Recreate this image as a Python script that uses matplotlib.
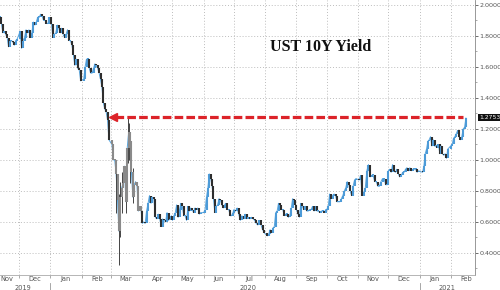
import numpy as np
import pandas as pd
import matplotlib
matplotlib.use("Agg")
import matplotlib.pyplot as plt
import matplotlib.dates as mdates

# daily closes of the 10Y yield, one list per month
nov19 = [1.92, 1.88, 1.82, 1.83, 1.81, 1.79, 1.73, 1.77, 1.77, 1.76, 1.74, 1.77, 1.78]
dec19 = [1.83, 1.72, 1.77, 1.79, 1.84, 1.82, 1.84, 1.79, 1.82, 1.89, 1.87, 1.89, 1.92, 1.92,
         1.94, 1.93, 1.90, 1.90, 1.88, 1.88, 1.92]
jan20 = [1.88, 1.79, 1.81, 1.82, 1.87, 1.85, 1.82, 1.85, 1.81, 1.79, 1.81, 1.84, 1.77, 1.77,
         1.74, 1.68, 1.61, 1.65, 1.59, 1.58, 1.51]
feb20 = [1.52, 1.60, 1.65, 1.65, 1.59, 1.56, 1.56, 1.59, 1.62, 1.61, 1.59, 1.56, 1.52, 1.47,
         1.37, 1.33, 1.31, 1.26, 1.13]
mar20 = [1.10, 1.00, 1.00, 0.91, 0.74, 0.54, 0.76, 0.82, 0.85, 0.96, 0.73, 1.08, 1.18, 1.12,
         0.92, 0.76, 0.84, 0.86, 0.83, 0.67, 0.70, 0.67]
apr20 = [0.59, 0.60, 0.59, 0.67, 0.72, 0.77, 0.72, 0.76, 0.75, 0.63, 0.62, 0.65, 0.62, 0.57,
         0.62, 0.61, 0.60, 0.66, 0.61, 0.62, 0.64]
may20 = [0.61, 0.64, 0.66, 0.71, 0.63, 0.68, 0.72, 0.70, 0.64, 0.64, 0.61, 0.70, 0.67, 0.69,
         0.68, 0.66, 0.69, 0.68, 0.69, 0.65, 0.66]
jun20 = [0.66, 0.68, 0.76, 0.82, 0.91, 0.88, 0.83, 0.75, 0.66, 0.70, 0.71, 0.75, 0.74, 0.71,
         0.69, 0.71, 0.72, 0.68, 0.68, 0.64, 0.64, 0.66]
jul20 = [0.68, 0.67, 0.69, 0.65, 0.61, 0.64, 0.62, 0.65, 0.62, 0.63, 0.62, 0.63, 0.62, 0.61,
         0.59, 0.58, 0.61, 0.58, 0.55, 0.53]
aug20 = [0.51, 0.52, 0.55, 0.53, 0.56, 0.57, 0.66, 0.67, 0.72, 0.71, 0.68, 0.68, 0.64, 0.65,
         0.65, 0.63, 0.64, 0.69, 0.75, 0.74, 0.71]
sep20 = [0.68, 0.65, 0.63, 0.72, 0.70, 0.68, 0.70, 0.67, 0.67, 0.68, 0.68, 0.70, 0.67, 0.70,
         0.67, 0.67, 0.66, 0.67, 0.67, 0.66, 0.68]
oct20 = [0.68, 0.70, 0.78, 0.75, 0.77, 0.78, 0.77, 0.73, 0.73, 0.73, 0.75, 0.77, 0.80, 0.82,
         0.86, 0.84, 0.80, 0.77, 0.83, 0.87, 0.88]
nov20 = [0.87, 0.90, 0.77, 0.79, 0.82, 0.93, 0.97, 0.89, 0.90, 0.90, 0.86, 0.86, 0.83, 0.83,
         0.86, 0.88, 0.88, 0.84, 0.84]
dec20 = [0.93, 0.94, 0.92, 0.97, 0.93, 0.92, 0.94, 0.91, 0.89, 0.90, 0.92, 0.92, 0.94, 0.95,
         0.93, 0.95, 0.93, 0.94, 0.94, 0.94, 0.92, 0.93]
jan21 = [0.92, 0.96, 1.04, 1.07, 1.12, 1.13, 1.15, 1.09, 1.13, 1.09, 1.09, 1.08, 1.10, 1.04,
         1.09, 1.04, 1.03, 1.04, 1.01, 1.07]
feb21 = [1.09, 1.10, 1.14, 1.15, 1.17, 1.19, 1.15, 1.13, 1.15, 1.20, 1.21, 1.27]

months = [("2019-11-12", "2019-11-29", nov19), ("2019-12-02", "2019-12-31", dec19),
          ("2020-01-02", "2020-01-31", jan20), ("2020-02-03", "2020-02-28", feb20),
          ("2020-03-02", "2020-03-31", mar20), ("2020-04-01", "2020-04-30", apr20),
          ("2020-05-01", "2020-05-29", may20), ("2020-06-01", "2020-06-30", jun20),
          ("2020-07-01", "2020-07-31", jul20), ("2020-08-03", "2020-08-31", aug20),
          ("2020-09-01", "2020-09-30", sep20), ("2020-10-01", "2020-10-30", oct20),
          ("2020-11-02", "2020-11-30", nov20), ("2020-12-01", "2020-12-31", dec20),
          ("2021-01-04", "2021-01-29", jan21), ("2021-02-01", "2021-02-16", feb21)]

# March 2020 intraday extremes
wick_dates = ["2020-03-06", "2020-03-09", "2020-03-10", "2020-03-12", "2020-03-16",
              "2020-03-18", "2020-03-19", "2020-03-20", "2020-03-23"]
wick_lo = [0.66, 0.32, 0.50, 0.66, 0.66, 0.98, 1.00, 0.85, 0.72]
wick_hi = [0.94, 0.78, 0.86, 0.92, 1.00, 1.27, 1.24, 1.14, 0.95]

last_value = 1.2753

x, closes, grey = [], [], []
for start, end, vals in months:
    a = mdates.date2num(pd.Timestamp(start))
    b = mdates.date2num(pd.Timestamp(end))
    x.extend(np.linspace(a, b, len(vals)))
    closes.extend(vals)
    grey.extend([start.startswith("2020-03")] * len(vals))
x = np.array(x)
closes = np.array(closes)
opens = np.r_[closes[0], closes[:-1]]

fig = plt.figure(figsize=(5, 2.9), dpi=100)
ax = fig.add_axes([0, 0.052, 0.95, 0.948])

ax.plot(x, closes, color="#5aa6de", lw=0.7, zorder=2)
for xi, o, c, g in zip(x, opens, closes, grey):
    if g:
        col = "#8a8a8a"
    elif c >= o:
        col = "#4d9bd8"
    else:
        col = "#2e2e2e"
    lo, hi = min(o, c), max(o, c)
    if hi - lo < 0.006:
        hi = lo + 0.006
    ax.vlines(xi, lo, hi, color=col, lw=1.5, zorder=3)
for d, lo, hi in zip(wick_dates, wick_lo, wick_hi):
    ax.vlines(mdates.date2num(pd.Timestamp(d)), lo, hi, color="#444444", lw=0.7, zorder=2.5)

# red dashed arrow back to March high
x0 = mdates.date2num(pd.Timestamp("2020-03-05"))
x1 = mdates.date2num(pd.Timestamp("2021-02-13"))
ax.plot([x0, x1], [last_value, last_value], color="#dc2329", lw=2.3,
        dashes=(2.7, 1.0), zorder=5, solid_capstyle="butt")
ax.plot([mdates.date2num(pd.Timestamp("2020-03-03"))], [last_value], marker="<",
        color="#dc2329", markersize=6, zorder=5)

ax.set_xlim(mdates.date2num(pd.Timestamp("2019-11-12")), mdates.date2num(pd.Timestamp("2021-02-25")))
ax.set_ylim(0.258, 2.032)

# right axis ticks
ax.yaxis.tick_right()
ax.set_yticks(np.arange(0.4, 2.01, 0.2))
ax.set_yticks(np.arange(0.3, 2.01, 0.1), minor=True)
ax.set_yticklabels([f"{v:.4f}" for v in np.arange(0.4, 2.01, 0.2)])
ax.tick_params(axis="y", which="major", labelsize=4.6, colors="#555555", length=2, width=0.6, pad=1)
ax.tick_params(axis="y", which="minor", length=1.5, width=0.5, colors="#888888")

# month boundaries
bounds = pd.date_range("2019-12-01", "2021-02-01", freq="MS")
ax.set_xticks(mdates.date2num(bounds))
ax.set_xticklabels([])
ax.tick_params(axis="x", length=2, width=0.5, colors="#888888")
mid_labels = ["Nov", "Dec", "Jan", "Feb", "Mar", "Apr", "May", "Jun", "Jul", "Aug", "Sep",
              "Oct", "Nov", "Dec", "Jan", "Feb"]
mid_dates = list(pd.date_range("2019-11-01", "2021-02-01", freq="MS") + pd.Timedelta(days=15))
mid_dates[0] = pd.Timestamp("2019-11-19")
for lab, d in zip(mid_labels, mid_dates):
    ax.text(mdates.date2num(d), -0.004, lab, transform=ax.get_xaxis_transform(),
            ha="center", va="top", fontsize=4.8, color="#555555", clip_on=False)
for yr, d in [("2019", "2019-12-05"), ("2020", "2020-07-15"), ("2021", "2021-01-28")]:
    ax.text(mdates.date2num(pd.Timestamp(d)), -0.038, yr, transform=ax.get_xaxis_transform(),
            ha="center", va="top", fontsize=4.8, color="#555555", clip_on=False)
for d in ["2020-01-01", "2021-01-01"]:
    ax.plot([mdates.date2num(pd.Timestamp(d))] * 2, [-0.03, -0.06], transform=ax.get_xaxis_transform(),
            color="#999999", lw=0.6, clip_on=False)

ax.grid(True, which="major", color="#bdbdbd", linestyle=(0, (1, 2)), lw=0.7)
ax.set_axisbelow(True)
for s in ["top", "left"]:
    ax.spines[s].set_visible(False)
ax.spines["right"].set_color("#888888")
ax.spines["bottom"].set_color("#aaaaaa")
ax.spines["right"].set_linewidth(0.6)
ax.spines["bottom"].set_linewidth(0.6)

ax.text(0.674, 0.83, "UST 10Y Yield", transform=ax.transAxes, ha="center", va="center",
        fontsize=11.5, fontweight="bold", family="Liberation Serif", color="#111111")

ax.annotate(f"{last_value:.4f}", xy=(1.008, last_value), xycoords=("axes fraction", "data"),
            ha="left", va="center", fontsize=4.3, color="white", annotation_clip=False,
            bbox=dict(boxstyle="square,pad=0.2", fc="#111111", ec="none"))

fig.savefig("out.png", dpi=100)
